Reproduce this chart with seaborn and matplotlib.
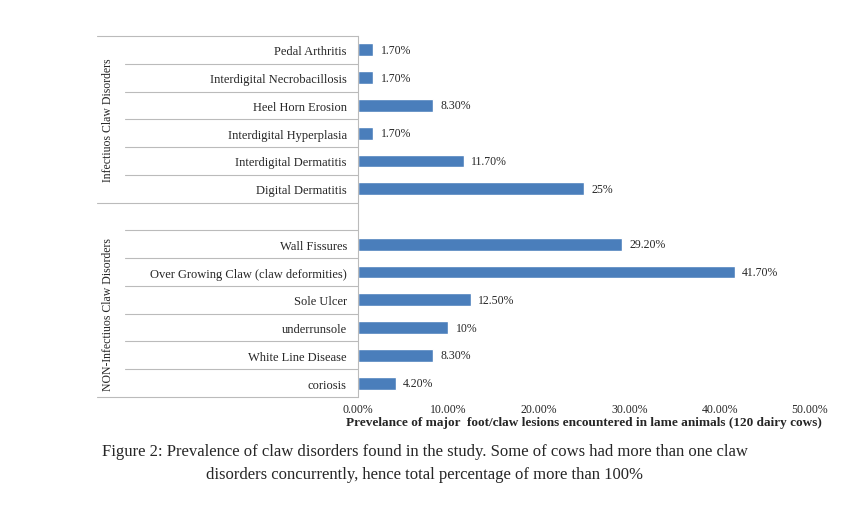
import matplotlib
matplotlib.use("Agg")
import matplotlib.pyplot as plt
import seaborn as sns
import pandas as pd

categories = ["Pedal Arthritis", "Interdigital Necrobacillosis", "Heel Horn Erosion",
              "Interdigital Hyperplasia", "Interdigital Dermatitis", "Digital Dermatitis", " ",
              "Wall Fissures", "Over Growing Claw (claw deformities)", "Sole Ulcer",
              "underrunsole", "White Line Disease", "coriosis"]
values = [1.7, 1.7, 8.3, 1.7, 11.7, 25, 0, 29.2, 41.7, 12.5, 10, 8.3, 4.2]
value_labels = ["1.70%", "1.70%", "8.30%", "1.70%", "11.70%", "25%", "",
                "29.20%", "41.70%", "12.50%", "10%", "8.30%", "4.20%"]
xticks = [0, 10, 20, 30, 40, 50]
xtick_labels = ["0.00%", "10.00%", "20.00%", "30.00%", "40.00%", "50.00%"]
groups = ["Infectiuos Claw Disorders", "NON-Infectiuos Claw Disorders"]

sns.set_style("white")
plt.rcParams['font.family'] = ['Liberation Serif', 'DejaVu Serif']

df = pd.DataFrame({"cat": categories, "val": values})
fig = plt.figure(figsize=(8.49, 5.10), dpi=100)
ax = fig.add_axes([358/849, 1-398/510, (810-358)/849, (398-37)/510])
sns.barplot(data=df, y="cat", x="val", order=categories, color="#4a7ebb",
            width=0.46, ax=ax, saturation=1)
ax.set_xlim(0, 50)
ax.set_ylim(len(categories)-0.5, -0.5)
ax.set_xticks(xticks)
ax.set_xticklabels(xtick_labels, fontsize=8.5)
ax.tick_params(axis='y', labelsize=9, length=0, pad=8)
ax.tick_params(axis='x', length=0, pad=4)
ax.set_ylabel("")
ax.set_xlabel("Prevelance of major  foot/claw lesions encountered in lame animals (120 dairy cows)",
              fontsize=9.5, fontweight="bold", labelpad=1)
for s in ["top", "right", "bottom"]:
    ax.spines[s].set_visible(False)
ax.spines["left"].set_color("#bbbbbb")
for i, (v, t) in enumerate(zip(values, value_labels)):
    if t:
        ax.text(v + 0.8, i, t, va="center", ha="left", fontsize=8.5)

def yfig(row_edge):
    return 1 - (37 + row_edge * (361/13)) / 510
for e in range(14):
    x0 = 97 if e in (0, 6, 13) else 125
    fig.add_artist(plt.Line2D([x0/849, 358/849], [yfig(e), yfig(e)],
                              color="#bbbbbb", lw=0.8))
fig.text(108/849, yfig(3), groups[0], rotation=90, ha="center", va="center", fontsize=8.5)
fig.text(108/849, yfig(10), groups[1], rotation=90, ha="center", va="center", fontsize=8.5)

fig.text(0.5, 1-452/510, "Figure 2: Prevalence of claw disorders found in the study. Some of cows had more than one claw",
         ha="center", va="center", fontsize=12)
fig.text(0.5, 1-475/510, "disorders concurrently, hence total percentage of more than 100%",
         ha="center", va="center", fontsize=12)
fig.savefig("out.png", dpi=100)
